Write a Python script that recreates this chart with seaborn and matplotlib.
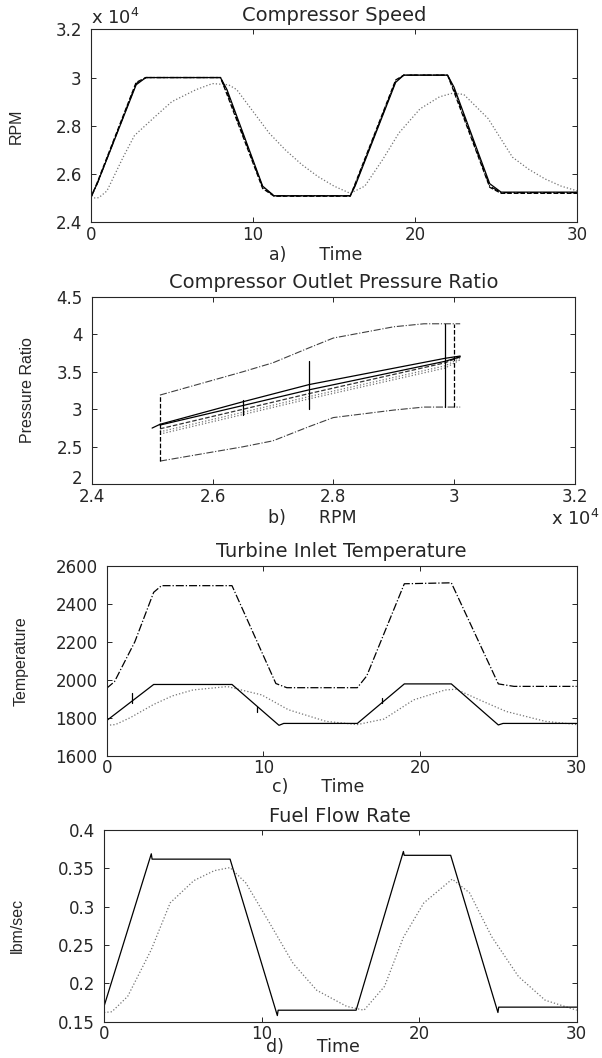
import matplotlib
matplotlib.use("Agg")
import matplotlib.pyplot as plt
import seaborn as sns
from matplotlib.ticker import FuncFormatter

# ---- a) compressor speed ----
speed_t = [0, 0.4, 2.8, 3.4, 8.0, 8.4, 10.6, 11.3, 16.0, 16.3, 18.8, 19.3, 22.0, 22.4, 24.6, 25.3, 30]
speed_solid = [25050, 25600, 29700, 30000, 30000, 29500, 25500, 25100, 25100, 25500, 29800, 30100, 30100, 29600, 25600, 25250, 25250]
speed_dash = [25000, 25650, 29800, 30000, 30000, 29300, 25400, 25080, 25080, 25600, 29900, 30100, 30100, 29400, 25450, 25200, 25200]
speed_dashdot = [25000, 25600, 29750, 30000, 30000, 29400, 25450, 25100, 25100, 25550, 29850, 30100, 30100, 29500, 25500, 25230, 25230]
speed_dot_t = [0, 0.5, 1, 2, 2.7, 4, 5, 6.5, 7.5, 8.5, 9, 10, 11, 12, 13, 14, 15, 16, 16.9,
               18, 19, 20.3, 21.5, 22.3, 23, 24.5, 26, 27, 28, 29, 30]
speed_dot = [25000, 25020, 25300, 26700, 27600, 28400, 29000, 29500, 29750, 29700, 29500, 28600,
             27700, 27000, 26400, 25900, 25500, 25200, 25500, 26600, 27700, 28700, 29200, 29350,
             29300, 28300, 26700, 26200, 25800, 25500, 25300]

# ---- b) pressure ratio vs rpm ----
env_rpm = [25130, 26500, 27000, 27600, 28000, 29000, 29500, 30100]
env_upper = [3.19, 3.50, 3.62, 3.82, 3.95, 4.10, 4.14, 4.14]
env_lower = [2.31, 2.50, 2.58, 2.77, 2.89, 2.99, 3.03, 3.03]
traj_rpm = [25130, 26500, 27600, 29850, 30100]
traj_a = [2.80, 3.10, 3.33, 3.68, 3.71]
traj_b = [2.79, 3.05, 3.26, 3.64, 3.70]
traj_c = [2.74, 3.00, 3.21, 3.62, 3.70]
traj_d = [2.70, 2.96, 3.17, 3.58, 3.68]
traj_e = [2.67, 2.93, 3.14, 3.55, 3.66]
tail_rpm = [25000, 25130]
tail_pr = [2.75, 2.80]
# vertical markers: (rpm, low, high, style)
vert_bars = [(25130, 2.31, 3.19, "--"), (30000, 3.03, 4.14, "--"), (29850, 3.03, 4.14, "-"),
             (27600, 3.00, 3.65, "-"), (26500, 2.93, 3.12, "-")]

# ---- c) turbine inlet temperature ----
temp_t = [0, 3, 8, 11, 11.3, 16, 19, 22, 25, 25.3, 30]
temp_solid = [1785, 1975, 1975, 1760, 1770, 1770, 1978, 1978, 1762, 1770, 1770]
temp_dd_t = [0, 0.5, 1.8, 3.0, 3.5, 8, 10.8, 11.5, 16, 16.6, 19, 22, 25, 26, 30]
temp_dashdot = [1955, 1990, 2200, 2460, 2495, 2495, 1980, 1958, 1958, 2020, 2505, 2510, 1978, 1965, 1965]
temp_dot_t = [0, 0.56, 1.5, 3, 4.2, 5.5, 7.7, 9.9, 11.6, 14, 16, 17.7, 19.6, 21.6, 22.3,
              23.8, 25.5, 28, 30]
temp_dot = [1760, 1764, 1800, 1870, 1915, 1946, 1964, 1920, 1842, 1781, 1764, 1793, 1894,
            1946, 1950, 1894, 1833, 1781, 1764]
temp_marks = [(1.6, 1880, 1930), (9.6, 1830, 1855), (17.6, 1880, 1905)]

# ---- d) fuel flow rate ----
fuel_t = [0, 3, 3.05, 8, 11, 11.05, 16, 19, 19.05, 22, 25, 25.05, 30]
fuel_solid = [0.170, 0.369, 0.362, 0.362, 0.158, 0.165, 0.165, 0.372, 0.367, 0.367, 0.162, 0.169, 0.169]
fuel_dot_t = [0, 0.5, 1.5, 3, 4.2, 5.7, 7, 8, 9, 10.5, 12, 13.5, 15.4, 16.5, 17.8, 19, 20.3,
              22.1, 23.2, 24.6, 26.3, 28, 30]
fuel_dot = [0.162, 0.163, 0.183, 0.244, 0.305, 0.334, 0.347, 0.351, 0.331, 0.279, 0.226, 0.191,
            0.170, 0.165, 0.196, 0.260, 0.305, 0.336, 0.318, 0.261, 0.209, 0.178, 0.165]

sns.set_style("ticks")
plt.rcParams["font.family"] = ["DejaVu Sans"]
YFONT = ["Liberation Sans", "DejaVu Sans"]

fig = plt.figure(figsize=(6.02, 10.58), dpi=100)
ax_a = fig.add_axes([0.1507, 0.7899, 0.8083, 0.1824])
ax_b = fig.add_axes([0.1523, 0.5422, 0.8028, 0.1773])
ax_c = fig.add_axes([0.1772, 0.2857, 0.7807, 0.1796])
ax_d = fig.add_axes([0.1728, 0.0343, 0.7852, 0.1812])

K = "black"
G = "0.45"
LW = 0.9


def line(ax, x, y, ls="-", color=K, lw=LW):
    sns.lineplot(x=x, y=y, ax=ax, color=color, linestyle=ls, linewidth=lw,
                 sort=False, estimator=None)


def style(ax, title, xlabel, ylabel, xl_pos, yl_x):
    ax.set_title(title, fontsize=14, pad=6)
    ax.set_xlabel(xlabel, fontsize=12.5)
    ax.xaxis.set_label_coords(*xl_pos)
    ax.set_ylabel(ylabel, fontsize=11.5, family=YFONT)
    ax.yaxis.set_label_coords(yl_x, 0.5)
    ax.tick_params(direction="in", top=True, right=True, length=3.5, width=0.7,
                   labelsize=12)
    ax.tick_params(axis="y", pad=6.5)
    ax.tick_params(axis="x", pad=2.5)
    for s in ax.spines.values():
        s.set_linewidth(0.8)


e4 = FuncFormatter(lambda v, p: f"{v / 1e4:g}")
plain = FuncFormatter(lambda v, p: f"{v:g}")

# a
line(ax_a, speed_dot_t, speed_dot, ":", G)
line(ax_a, speed_t, speed_dashdot, "-.")
line(ax_a, speed_t, speed_dash, "--")
line(ax_a, speed_t, speed_solid, "-")
ax_a.set_xlim(0, 30)
ax_a.set_ylim(24000, 32000)
ax_a.set_xticks([0, 10, 20, 30])
ax_a.set_yticks([24000, 26000, 28000, 30000, 32000])
ax_a.yaxis.set_major_formatter(e4)
style(ax_a, "Compressor Speed", "a)      Time", "RPM", (0.462, -0.123), -0.138)
ax_a.text(0.0, 1.027, r"x 10$^4$", transform=ax_a.transAxes, fontsize=13, va="baseline", ha="left")

# b
line(ax_b, env_rpm, env_upper, "-.", "0.25", 0.8)
line(ax_b, env_rpm, env_lower, "-.", "0.25", 0.8)
line(ax_b, traj_rpm, traj_e, ":", G)
line(ax_b, traj_rpm, traj_d, ":", G)
line(ax_b, traj_rpm, traj_c, "--", "0.2")
line(ax_b, traj_rpm, traj_b, "-")
line(ax_b, traj_rpm, traj_a, "-")
line(ax_b, tail_rpm, tail_pr, "-")
for r, lo, hi, ls in vert_bars:
    line(ax_b, [r, r], [lo, hi], ls)
ax_b.set_xlim(24000, 32000)
ax_b.set_ylim(2, 4.5)
ax_b.set_xticks([24000, 26000, 28000, 30000, 32000])
ax_b.set_yticks([2, 2.5, 3, 3.5, 4, 4.5])
ax_b.xaxis.set_major_formatter(e4)
ax_b.yaxis.set_major_formatter(plain)
style(ax_b, "Compressor Outlet Pressure Ratio", "b)      RPM", "Pressure Ratio", (0.456, -0.13), -0.117)
ax_b.get_yticklabels()[0].set_va("baseline")
ax_b.text(0.95, -0.13, r"x 10$^4$", transform=ax_b.transAxes, fontsize=13, va="top", ha="left")

# c
line(ax_c, temp_dot_t, temp_dot, ":", G)
line(ax_c, temp_dd_t, temp_dashdot, "-.")
line(ax_c, temp_t, temp_solid, "-")
for t, lo, hi in temp_marks:
    line(ax_c, [t, t], [lo, hi], "-")
ax_c.set_xlim(0, 30)
ax_c.set_ylim(1600, 2600)
ax_c.set_xticks([0, 10, 20, 30])
ax_c.set_yticks([1600, 1800, 2000, 2200, 2400, 2600])
style(ax_c, "Turbine Inlet Temperature", "c)      Time", "Temperature", (0.449, -0.115), -0.166)

# d
line(ax_d, fuel_dot_t, fuel_dot, ":", G)
line(ax_d, fuel_t, fuel_solid, "-")
ax_d.set_xlim(0, 30)
ax_d.set_ylim(0.15, 0.4)
ax_d.set_xticks([0, 10, 20, 30])
ax_d.set_yticks([0.15, 0.2, 0.25, 0.3, 0.35, 0.4])
ax_d.yaxis.set_major_formatter(plain)
style(ax_d, "Fuel Flow Rate", "d)      Time", "lbm/sec", (0.442, -0.083), -0.168)

fig.savefig("out.png", dpi=100, facecolor="white")
